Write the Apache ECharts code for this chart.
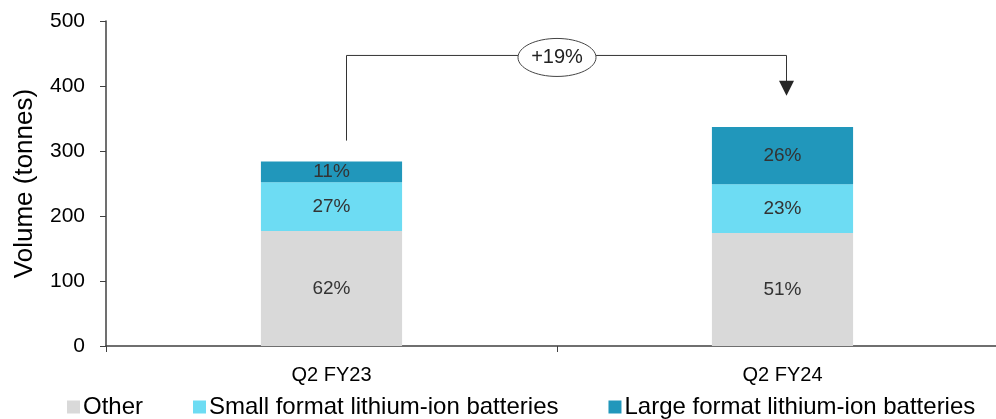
<!DOCTYPE html>
<html><head><meta charset="utf-8">
<script src="https://cdn.jsdelivr.net/npm/echarts@6/dist/echarts.min.js"></script>
<style>html,body{margin:0;padding:0;background:#fff}#c{width:996px;height:419px}</style>
</head><body><div id="c"></div>
<script>
const categories = ['Q2 FY23', 'Q2 FY24'];
const otherVals = [177, 174];
const smallVals = [75, 75];
const largeVals = [32, 88];
const otherPct = ['62%', '51%'];
const smallPct = ['27%', '23%'];
const largePct = ['11%', '26%'];
const seriesNames = ['Other', 'Small format lithium-ion batteries', 'Large format lithium-ion batteries'];
const yTicks = [0, 100, 200, 300, 400, 500];
const growthLabel = '+19%';
const bracketStartVal = 316, bracketTopVal = 447, arrowTipVal = 385;

const chart = echarts.init(document.getElementById('c'));
const font = 'Liberation Sans, Arial, sans-serif';
function mk(name, vals, pcts, color) {
  return {
    name, type: 'bar', stack: 'v', data: vals, barWidth: '31.3%',
    itemStyle: { color },
    label: { show: true, position: 'inside', formatter: p => pcts[p.dataIndex],
      color: '#333', fontSize: 19, fontFamily: font }
  };
}
chart.setOption({
  animation: false,
  textStyle: { fontFamily: font },
  grid: { left: 106, width: 902, top: 21, bottom: 73, containLabel: false, outerBoundsMode: 'none' },
  legend: {
    bottom: -5, left: 62, itemWidth: 13, itemHeight: 13, itemGap: 50, icon: 'rect',
    textStyle: { fontSize: 24, color: '#000', fontFamily: font, padding: [0, 0, 0, -2] },
    data: seriesNames
  },
  xAxis: {
    type: 'category', data: categories,
    axisLine: { lineStyle: { color: '#404040', width: 1.5 } },
    axisTick: { show: true, length: 6, lineStyle: { color: '#404040' } },
    axisLabel: { fontSize: 20, color: '#000', margin: 19, fontFamily: font }
  },
  yAxis: {
    type: 'value', min: 0, max: 500, interval: 100,
    name: 'Volume (tonnes)', nameLocation: 'middle', nameGap: 68, nameRotate: 90,
    nameTextStyle: { fontSize: 26, color: '#000', fontFamily: font },
    axisLine: { show: true, lineStyle: { color: '#404040', width: 1.5 } },
    axisTick: { show: true, length: 6, lineStyle: { color: '#404040' } },
    splitLine: { show: false },
    axisLabel: { fontSize: 21, color: '#000', margin: 21, fontFamily: font,
      formatter: v => yTicks.includes(v) ? String(v) : '' }
  },
  series: [
    mk(seriesNames[0], otherVals, otherPct, '#d9d9d9'),
    mk(seriesNames[1], smallVals, smallPct, '#6ddcf3'),
    mk(seriesNames[2], largeVals, largePct, '#2197bb')
  ]
});

function drawAnnotation() {
  const p0 = chart.convertToPixel({ xAxisIndex: 0, yAxisIndex: 0 }, [0, bracketStartVal]);
  const pTop0 = chart.convertToPixel({ xAxisIndex: 0, yAxisIndex: 0 }, [0, bracketTopVal]);
  const p1 = chart.convertToPixel({ xAxisIndex: 0, yAxisIndex: 0 }, [1, arrowTipVal]);
  const x0 = p0[0] + 15, x1 = p1[0] + 4, yTop = pTop0[1], yS = p0[1], yTip = p1[1];
  const mid = (p0[0] + p1[0]) / 2;
  const col = '#333';
  chart.setOption({
    graphic: [
      { type: 'polyline', shape: { points: [[x0, yS], [x0, yTop], [x1, yTop], [x1, yTip - 12]] },
        style: { stroke: col, lineWidth: 1, fill: null }, z: 10 },
      { type: 'polygon', shape: { points: [[x1 - 7.5, yTip - 15], [x1 + 7.5, yTip - 15], [x1, yTip]] },
        style: { fill: '#262626' }, z: 10 },
      { type: 'ellipse', shape: { cx: mid, cy: yTop + 2, rx: 39, ry: 19 },
        style: { fill: '#fff', stroke: '#444', lineWidth: 1 }, z: 11 },
      { type: 'text', x: mid, y: yTop + 2, z: 12,
        style: { text: growthLabel, fill: '#222', fontSize: 20, fontFamily: font, align: 'center', verticalAlign: 'middle' } }
    ]
  });
}
drawAnnotation();
</script></body></html>
